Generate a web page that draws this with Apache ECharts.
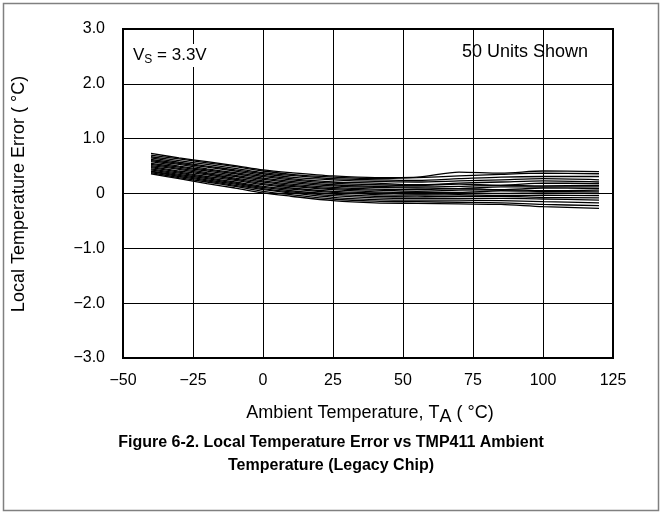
<!DOCTYPE html>
<html><head><meta charset="utf-8">
<script src="https://cdn.jsdelivr.net/npm/echarts@6/dist/echarts.min.js"></script>
<style>html,body{margin:0;padding:0;background:#fff}#c{width:662px;height:514px}</style>
</head><body><div id="c"></div>
<script>
const temps = [-40, -30, -20, -10, 0, 10, 25, 40, 55, 70, 85, 100, 120];
const unit01 = [0.73,0.65,0.58,0.51,0.43,0.38,0.32,0.29,0.30,0.39,0.37,0.41,0.40];
const unit02 = [0.70,0.63,0.56,0.49,0.41,0.35,0.30,0.27,0.29,0.32,0.35,0.37,0.36];
const unit03 = [0.67,0.60,0.53,0.46,0.38,0.33,0.27,0.25,0.24,0.27,0.30,0.31,0.31];
const unit04 = [0.65,0.57,0.50,0.43,0.36,0.30,0.25,0.22,0.21,0.23,0.25,0.27,0.25];
const unit05 = [0.62,0.55,0.48,0.41,0.33,0.27,0.21,0.19,0.16,0.19,0.21,0.23,0.21];
const unit06 = [0.60,0.53,0.45,0.38,0.31,0.25,0.19,0.16,0.15,0.17,0.15,0.19,0.18];
const unit07 = [0.58,0.50,0.43,0.36,0.28,0.22,0.16,0.13,0.12,0.13,0.15,0.14,0.15];
const unit08 = [0.55,0.48,0.41,0.33,0.26,0.20,0.14,0.11,0.10,0.09,0.12,0.12,0.12];
const unit09 = [0.53,0.46,0.38,0.31,0.23,0.17,0.11,0.08,0.07,0.09,0.07,0.10,0.09];
const unit10 = [0.51,0.44,0.36,0.28,0.21,0.15,0.09,0.06,0.04,0.06,0.07,0.05,0.06];
const unit11 = [0.49,0.41,0.34,0.26,0.18,0.13,0.07,0.03,0.02,0.02,0.05,0.04,0.03];
const unit12 = [0.47,0.39,0.31,0.24,0.16,0.10,0.04,0.01,-0.01,0.01,0.00,0.01,0.00];
const unit13 = [0.45,0.37,0.29,0.21,0.13,0.08,0.02,-0.02,-0.03,-0.02,-0.04,-0.03,-0.04];
const unit14 = [0.43,0.35,0.27,0.19,0.11,0.05,-0.01,-0.05,-0.06,-0.05,-0.05,-0.07,-0.08];
const unit15 = [0.41,0.33,0.25,0.17,0.09,0.03,-0.04,-0.08,-0.09,-0.09,-0.09,-0.10,-0.12];
const unit16 = [0.40,0.31,0.23,0.15,0.07,0.01,-0.07,-0.11,-0.12,-0.12,-0.13,-0.15,-0.17];
const unit17 = [0.38,0.29,0.21,0.13,0.04,-0.02,-0.10,-0.14,-0.15,-0.16,-0.17,-0.20,-0.22];
const unit18 = [0.36,0.27,0.18,0.10,0.01,-0.05,-0.13,-0.17,-0.18,-0.19,-0.20,-0.24,-0.27];
const units = [unit01,unit02,unit03,unit04,unit05,unit06,unit07,unit08,unit09,unit10,unit11,unit12,unit13,unit14,unit15,unit16,unit17,unit18];

const xTicks = {'-50':'\u221250','-25':'\u221225','0':'0','25':'25','50':'50','75':'75','100':'100','125':'125'};
const yTicks = {'3':'3.0','2':'2.0','1':'1.0','0':'0','-1':'\u22121.0','-2':'\u22122.0','-3':'\u22123.0'};

const FONT = '"Liberation Sans", Arial, sans-serif';
const chart = echarts.init(document.getElementById('c'), null, {renderer:'canvas'});
chart.setOption({
  animation: false,
  backgroundColor: '#fff',
  grid: {left:123, right:49, top:29, bottom:156, show:true, borderColor:'#000', borderWidth:2, backgroundColor:'transparent'},
  xAxis: {
    type:'value', min:-50, max:125, interval:25,
    axisLine:{show:true, onZero:false, lineStyle:{color:'#000', width:2}},
    axisTick:{show:false},
    splitLine:{show:true, lineStyle:{color:'#000', width:1}},
    axisLabel:{color:'#000', fontFamily:FONT, fontSize:16, margin:15, formatter:v=>xTicks[String(v)]}
  },
  yAxis: {
    type:'value', min:-3, max:3, interval:1,
    axisLine:{show:true, onZero:false, lineStyle:{color:'#000', width:2}},
    axisTick:{show:false},
    splitLine:{show:true, lineStyle:{color:'#000', width:1}},
    axisLabel:{color:'#000', fontFamily:FONT, fontSize:16, margin:18, formatter:v=>yTicks[String(v)]}
  },
  series: units.map((u,i)=>({
    type:'line', name:'Unit '+(i+1), data: temps.map((t,j)=>[t,u[j]]),
    showSymbol:false, smooth:0.3, lineStyle:{color:'#000', width:1.3}, z:3
  })),
  graphic: [
    {type:'rect', shape:{x:3.5,y:3.5,width:655,height:507}, style:{fill:'none', stroke:'#808080', lineWidth:1.5}, silent:true},
    {type:'text', left:131, top:44, z:10, style:{text:'{v|V}{s|S}{v| = 3.3V}', backgroundColor:'#fff', padding:[1,2], rich:{v:{fontSize:17, fontFamily:FONT, fill:'#000'}, s:{fontSize:12, fontFamily:FONT, fill:'#000', padding:[9,0,0,0]}}}},
    {type:'text', left:462, top:43, z:10, style:{text:'50 Units Shown', font:'18px '+FONT, fill:'#000'}},
    {type:'text', x:370, y:413, z:10, style:{text:'{a|Ambient Temperature, T}{s|A}{a| ( \u00B0C)}', align:'center', verticalAlign:'middle', rich:{a:{fontSize:18, fontFamily:FONT, fill:'#000'}, s:{fontSize:18, fontFamily:FONT, fill:'#000', padding:[8,0,0,0]}}}},
    {type:'text', x:19, y:194, rotation:Math.PI/2, z:10, style:{text:'Local Temperature Error ( \u00B0C)', align:'center', verticalAlign:'middle', font:'18px '+FONT, fill:'#000'}},
    {type:'text', x:331, y:443, z:10, style:{text:'Figure 6-2. Local Temperature Error vs TMP411 Ambient', align:'center', verticalAlign:'middle', font:'bold 16px '+FONT, fill:'#000'}},
    {type:'text', x:331, y:466, z:10, style:{text:'Temperature (Legacy Chip)', align:'center', verticalAlign:'middle', font:'bold 16px '+FONT, fill:'#000'}}
  ]
});
</script></body></html>
